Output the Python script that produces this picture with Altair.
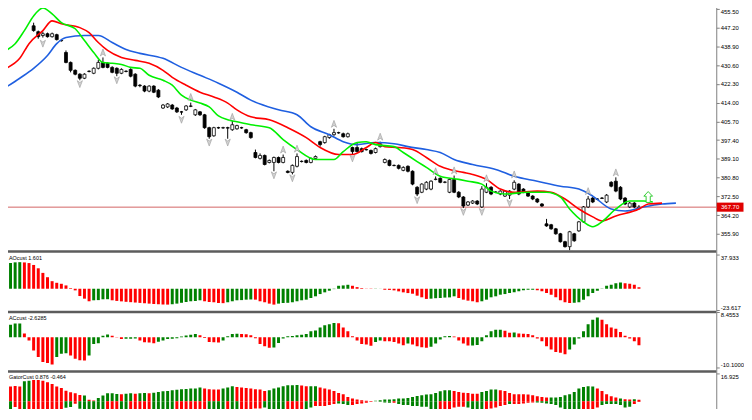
import altair as alt
import pandas as pd

# ---------------- price candles (index 0 .. 131) ----------------
opens = [448.0, 445.4, 443.7, 444.5, 443.2, 444.1, 441.5, 436.2, 431.8, 428.3,
         426.6, 424.8, 427.9, 427.0, 429.2, 431.8, 431.4, 429.6, 429.2, 427.0,
         427.9, 428.7, 426.6, 421.7, 421.3, 419.1, 421.3, 419.5, 411.6, 412.1,
         412.9, 411.6, 409.9, 410.8, 412.5, 408.6, 409.9, 408.6, 402.9, 399.3,
         402.9, 402.8, 402.9, 402.0, 402.4, 402.9, 402.0, 400.7, 391.9, 389.3,
         390.6, 387.5, 387.5, 389.7, 387.5, 383.6, 383.1, 385.8, 387.9, 388.4,
         387.5, 389.3, 396.7, 396.3, 398.5, 399.8, 400.7, 400.2, 398.9, 394.1,
         394.1, 393.6, 393.2, 392.8, 391.9, 394.5, 387.5, 388.4, 386.2, 386.2,
         384.0, 385.8, 383.6, 376.5, 374.3, 375.7, 375.7, 380.0, 380.5, 378.7,
         374.3, 380.0, 374.3, 372.2, 368.6, 369.5, 370.4, 367.8, 374.3, 376.5,
         374.3, 373.5, 372.6, 373.0, 375.7, 377.9, 375.7, 374.3, 372.6, 371.3,
         369.1, 360.3, 359.9, 358.1, 355.9, 352.4, 350.2, 355.9, 357.2, 361.2,
         367.8, 371.7, 371.3, 371.7, 370.0, 378.7, 379.2, 376.5, 371.7, 367.8,
         369.5, 367.0]
closes = [445.9, 443.2, 444.5, 443.2, 444.5, 441.9, 441.4, 431.8, 428.3, 426.6,
          424.8, 426.6, 427.8, 429.2, 431.8, 429.6, 429.6, 427.4, 427.0, 428.7,
          427.8, 425.7, 421.3, 421.5, 419.1, 421.3, 418.6, 416.5, 412.9, 413.4,
          411.2, 409.9, 409.8, 412.5, 412.4, 410.8, 408.6, 402.9, 398.9, 402.9,
          402.8, 402.9, 402.7, 404.2, 403.8, 402.8, 400.7, 398.5, 389.7, 390.6,
          386.6, 388.4, 389.7, 387.5, 389.7, 383.1, 386.2, 390.1, 388.0, 387.5,
          389.3, 390.1, 395.4, 398.9, 399.8, 400.7, 400.6, 398.9, 400.2, 392.3,
          392.3, 392.3, 393.1, 391.5, 393.6, 395.8, 388.8, 386.2, 386.1, 384.9,
          385.3, 383.6, 377.9, 373.5, 377.9, 378.7, 379.2, 380.1, 378.7, 378.8,
          380.0, 374.3, 372.2, 368.2, 370.0, 370.4, 369.1, 375.7, 376.5, 373.5,
          374.4, 374.8, 374.8, 374.8, 378.7, 373.5, 374.3, 372.6, 371.3, 370.0,
          368.2, 359.4, 358.1, 355.9, 352.4, 350.2, 356.8, 352.8, 361.2, 367.8,
          371.3, 370.0, 371.2, 371.6, 373.0, 377.0, 374.8, 371.3, 369.1, 369.5,
          367.8, 367.7]
highs = [449.4, 445.9, 445.4, 445.0, 445.0, 444.5, 441.9, 437.1, 432.2, 428.7,
         427.0, 427.0, 428.3, 429.6, 433.0, 434.0, 431.8, 430.1, 429.6, 429.2,
         428.3, 429.2, 427.0, 422.2, 421.7, 421.7, 421.7, 420.0, 413.4, 413.8,
         413.4, 412.1, 410.3, 412.9, 414.0, 411.2, 410.3, 409.0, 403.3, 403.3,
         403.3, 403.3, 403.3, 405.9, 404.2, 403.3, 402.4, 401.1, 393.2, 391.5,
         391.0, 388.8, 390.1, 390.1, 391.0, 384.0, 386.6, 391.5, 388.4, 388.8,
         389.7, 390.6, 397.1, 399.3, 400.2, 402.4, 401.1, 400.7, 400.7, 394.5,
         396.3, 394.1, 393.6, 393.2, 394.1, 396.7, 389.3, 388.8, 386.6, 386.6,
         385.8, 386.2, 384.0, 377.0, 378.3, 379.2, 379.6, 381.3, 380.9, 379.2,
         380.5, 381.7, 374.8, 372.6, 370.4, 370.8, 370.8, 377.0, 378.3, 377.0,
         374.8, 375.2, 375.2, 375.2, 379.6, 378.3, 376.1, 374.8, 373.0, 371.7,
         369.5, 362.5, 360.3, 358.5, 356.3, 352.8, 357.2, 356.3, 361.6, 368.2,
         372.6, 372.2, 371.7, 372.2, 373.5, 379.2, 380.9, 377.0, 372.2, 370.0,
         370.0, 368.6]
lows = [445.4, 442.3, 442.8, 442.8, 442.8, 441.5, 441.0, 431.4, 427.4, 426.1,
        423.9, 424.4, 427.4, 426.6, 428.7, 429.2, 429.2, 427.0, 425.7, 426.6,
        427.4, 425.2, 420.8, 420.8, 418.6, 418.6, 418.2, 416.0, 411.2, 411.6,
        410.8, 409.4, 408.6, 410.3, 412.0, 408.1, 408.1, 402.4, 398.0, 398.9,
        402.4, 402.4, 398.0, 401.5, 402.0, 402.4, 400.2, 398.0, 389.3, 388.8,
        386.2, 387.1, 383.6, 387.1, 387.1, 382.7, 382.2, 385.3, 387.5, 387.1,
        387.1, 388.8, 394.5, 395.8, 398.0, 399.3, 400.2, 398.5, 398.5, 391.0,
        391.9, 391.9, 392.8, 391.0, 391.5, 394.1, 387.1, 385.8, 385.8, 384.4,
        383.6, 383.1, 377.4, 372.6, 373.9, 375.2, 375.2, 379.6, 378.3, 378.3,
        373.9, 373.9, 371.7, 367.3, 368.2, 369.1, 368.6, 367.3, 373.9, 373.0,
        373.9, 373.0, 372.2, 371.3, 375.2, 373.0, 373.9, 372.2, 370.8, 369.5,
        367.8, 359.0, 357.7, 355.5, 352.0, 349.8, 348.5, 352.4, 356.8, 360.7,
        367.3, 369.5, 370.8, 371.3, 369.5, 376.5, 374.3, 370.8, 368.6, 367.3,
        367.3, 366.7]

bid_price = 367.70
main_ticks = [455.5, 447.2, 438.9, 430.6, 422.3, 414.0, 405.7, 397.4, 389.1,
              380.8, 372.5, 364.2, 355.9]

# ---------------- alligator lines (bar index, price) ----------------
jaw_i = [-6, -3, 0, 3, 5, 7, 11, 14, 17, 20, 23, 28, 32, 36, 40, 44, 47, 53, 57, 60,
         64, 67, 70, 74, 78, 81, 85, 88, 91, 95, 100, 104, 109, 114, 118, 121, 125,
         128, 132, 136, 139]
jaw_v = [420.8, 424.8, 429.2, 434.9, 440.1, 442.8, 443.7, 443.7, 440.6, 437.5, 435.8,
         433.6, 429.6, 426.1, 422.6, 418.6, 415.1, 410.8, 408.6, 403.3, 399.8, 396.7,
         395.4, 396.3, 395.8, 394.5, 393.2, 391.9, 388.8, 386.6, 384.4, 381.4, 379.2,
         377.0, 375.7, 372.6, 366.9, 366.0, 367.8, 369.1, 369.5]
teeth_i = [-6, -3, -1, 2, 4, 6, 10, 12, 14, 16, 19, 22, 25, 28, 30, 33, 36, 39, 42, 44,
           47, 51, 55, 59, 62, 66, 69, 72, 74, 76, 79, 82, 85, 88, 90, 93, 95, 98, 101,
           104, 109, 112, 115, 118, 121, 123, 126, 131, 133, 136]
teeth_v = [429.2, 433.6, 440.1, 445.9, 450.2, 448.9, 447.2, 445.0, 440.6, 437.1, 434.0,
           432.7, 431.4, 428.3, 425.2, 421.7, 418.6, 416.5, 413.8, 410.8, 407.7, 406.4,
           402.9, 398.5, 394.1, 391.0, 391.0, 394.1, 396.3, 394.5, 394.1, 393.2, 389.7,
           385.8, 384.4, 383.1, 382.2, 380.0, 375.7, 374.3, 374.8, 374.3, 371.3, 366.9,
           363.4, 361.6, 363.8, 366.9, 369.1, 369.5]
lips_i = [-6, -4, -2, 0, 2, 4, 6, 9, 11, 13, 15, 17, 19, 21, 23, 25, 28, 30, 32, 34, 36,
          38, 40, 42, 44, 47, 51, 54, 57, 61, 65, 67, 70, 72, 74, 78, 80, 83, 85, 88, 92,
          94, 97, 99, 102, 107, 111, 114, 116, 119, 121, 123, 126, 129, 132, 134]
lips_v = [437.1, 440.1, 445.9, 452.4, 455.9, 453.3, 449.4, 446.7, 441.5, 436.2, 431.8,
          431.4, 430.9, 429.6, 429.2, 426.1, 423.9, 421.7, 417.3, 415.1, 413.8, 412.1,
          408.1, 406.4, 405.5, 404.2, 402.9, 397.6, 393.2, 388.8, 388.8, 392.3, 396.3,
          396.7, 395.4, 394.5, 391.9, 387.9, 385.3, 381.4, 380.0, 379.2, 377.9, 374.8,
          373.5, 374.3, 374.3, 372.2, 366.9, 361.2, 359.0, 361.2, 366.9, 370.4, 370.4,
          370.0]

# ---------------- fractals ----------------
frac_up_i = [15, 34, 43, 54, 57, 65, 75, 87, 91, 98, 104, 120, 126]
frac_up_v = [436.2, 416.5, 407.7, 393.2, 393.6, 404.6, 398.9, 383.6, 384.0, 380.5,
             382.2, 374.8, 383.1]
frac_dn_i = [2, 10, 18, 32, 38, 42, 52, 56, 69, 83, 93, 97, 103, 116]
frac_dn_v = [440.1, 422.2, 423.9, 406.4, 396.3, 396.3, 381.8, 380.5, 389.3, 370.8,
             365.6, 365.6, 369.5, 346.8]
signal_i = [133]
signal_v = [372.2]

# ---------------- oscillators (index -6 .. 131) ----------------
ao_vals = [27.5, 28.6, 29.3, 29.5, 29.2, 28.5,
           26.4, 22.7, 17.6, 12.8, 8.4, 6.6, 5.5, 3.7, 0.7, -1.8, -8.1, -11.0, -13.9,
           -12.8, -12.6, -11.7, -11.6,
           -12.8, -13.5, -14.0, -14.5, -14.9, -15.3, -15.7, -16.1, -16.5, -16.9, -17.2, -17.5, -17.6,
           -17.2, -16.5, -15.6, -14.7,
           -13.9, -13.6, -12.8, -13.9, -14.7, -15.0, -15.8, -16.0, -15.0, -13.9,
           -12.8, -12.6, -12.1, -11.9, -12.1, -13.9, -15.0, -16.5, -17.6, -16.5,
           -15.8, -15.6, -15.0, -13.9, -12.8, -12.1, -10.3, -8.4, -5.9, -4.0,
           -2.2, -0.4, 3.3, 3.7, 4.4, 3.3, 1.8, 0.7, 0.2, -0.3,
           -0.2, -0.1, -1.1, -1.3, -1.8, -2.9, -4.0, -4.8, -5.5, -7.7,
           -9.5, -11.3, -11.0, -10.5, -10.3, -9.8, -9.6, -8.4, -10.3, -12.1,
           -13.2, -13.9, -15.0, -13.9, -12.1, -9.5, -8.4, -6.6, -5.9, -4.8,
           -4.0, -2.9, -1.8, -1.1, -1.0, -1.8, -2.9, -4.8, -6.6, -9.5,
           -12.8, -15.0, -15.8, -15.6, -15.0, -12.1, -8.4, -4.8, -2.2, -0.4,
           3.3, 4.4, 6.2, 7.0, 6.2, 5.5, 4.4, 1.6]
ac_vals = [3.9, 4.2, 4.6, 4.65, 1.3, -1.1,
           -4.4, -6.6, -8.3, -8.6, -9.1, -6.6, -5.5, -5.3, -6.1, -7.2, -7.7, -7.75, -6.1,
           -2.2, -2.0, 0.55, 0.9, 0.55, 0.1, -0.55, -0.5, -0.45, -0.4, -1.1, -1.65, -1.7,
           -2.0, -1.45, -1.1, -0.55, -0.5, -0.3, 0.3, 0.6,
           0.88, 1.1, 0.66, -0.2, -1.55, -1.66, -1.7, -1.1, 0.33, 1.1,
           1.15, 1.1, 1.05, 0.66, -0.3, -2.2, -3.0, -3.5, -3.4, -1.9,
           -0.4, 0.33, 0.45, 0.66, 0.88, 1.1, 2.0, 2.3, 3.3, 4.0,
           4.4, 4.75, 4.7, 3.3, 2.0, 0.33, -1.1, -2.2, -2.4, -2.8,
           -1.55, -1.1, -1.3, -1.35, -1.55, -2.1, -2.65, -2.1, -2.4, -3.0,
           -3.3, -3.5, -3.2, -2.1, -0.77, 0.33, 0.4, 0.3, -1.1, -2.1,
           -2.76, -2.7, -2.6, -1.3, 0.66, 2.0, 2.5, 2.55, 2.2, 1.5,
           1.6, 1.3, 1.2, 1.1, 0.7, -0.4, -1.3, -3.0, -4.1, -4.9,
           -5.2, -5.7, -4.1, -2.4, -0.4, 2.0, 4.4, 5.85, 6.6, 5.85,
           4.4, 3.3, 2.9, 1.8, 0.55, -0.44, -1.3, -2.63]
gator_up = [9.5, 8.9, 9.3, 8.9, 12.1, 12.5,
            12.9, 12.9, 12.5, 11.5, 10.5, 8.9, 8.1, 6.4, 5.4, 4.8, 3.8, 3.4, 0.8,
            0.4, 2.0, 3.4, 4.8, 4.8, 4.4, 4.2, 4.6, 4.8, 4.6, 4.8, 5.0, 4.8, 5.2,
            5.6, 6.0, 6.2, 6.6, 7.0, 7.3, 7.5,
            7.7, 7.7, 8.3, 7.7, 7.3, 7.1, 7.1, 7.7, 8.3, 9.1,
            8.7, 8.3, 8.1, 7.7, 7.3, 7.1, 6.2, 6.6, 7.7, 8.3,
            9.1, 9.7, 9.7, 9.9, 9.5, 9.1, 9.1, 9.1, 8.3, 7.7,
            7.1, 6.2, 5.0, 4.2, 2.6, 1.6, 1.0, 0.6, 0.2, 0.1,
            0.2, 0.6, 1.0, 1.0, 1.2, 1.6, 1.6, 2.0, 2.6, 3.2,
            3.6, 4.0, 4.2, 5.0, 6.0, 6.6, 6.6, 6.2, 5.6, 5.2,
            5.0, 4.6, 4.6, 5.6, 6.2, 7.1, 7.1, 6.6, 6.2, 5.0,
            4.2, 4.2, 4.2, 4.0, 3.6, 3.0, 2.6, 2.2, 2.2, 2.2,
            2.6, 3.6, 4.2, 5.6, 7.7, 8.7, 9.1, 8.9, 7.7, 6.2,
            4.2, 3.0, 2.2, 1.6, 1.2, 1.0, 1.2, 0.876]
gator_up_c = ["g", "r", "r", "r", "g", "g",
              "r", "r", "r", "r", "r", "r", "r", "r", "r", "r", "r", "g", "r",
              "r", "g", "g", "g", "g", "g", "r", "g", "g", "r", "g", "g", "r", "g",
              "g", "g", "g", "g", "g", "g", "g",
              "g", "g", "g", "r", "r", "r", "r", "g", "g", "g",
              "r", "r", "r", "r", "r", "r", "r", "g", "g", "g",
              "g", "g", "g", "g", "r", "r", "g", "g", "r", "r",
              "r", "r", "r", "r", "r", "r", "r", "r", "r", "r",
              "g", "g", "g", "g", "g", "g", "g", "g", "g", "g",
              "g", "g", "g", "g", "g", "g", "g", "r", "r", "r",
              "r", "r", "r", "g", "g", "g", "g", "r", "r", "r",
              "r", "r", "r", "r", "r", "r", "r", "r", "g", "g",
              "g", "g", "g", "g", "g", "g", "g", "g", "r", "r",
              "r", "r", "r", "g", "r", "r", "g", "r"]
gator_lo = [-9.7, -8.7, -3.6, -5.6, -8.7, -9.7,
            -9.7, -8.7, -7.7, -7.7, -6.6, -6.6, -6.6, -4.0, -3.6, -1.6, -4.6, -5.6, -6.6,
            -7.3, -7.3, -6.6, -6.6, -6.6, -6.6, -6.0, -6.4, -6.0, -5.8, -5.6, -5.4, -5.0,
            -5.4, -5.8, -6.0, -6.4, -6.6, -6.4, -6.2, -6.4,
            -6.4, -5.8, -5.0, -5.0, -5.4, -6.4, -7.1, -7.1, -6.4, -5.8,
            -5.4, -5.0, -5.0, -5.0, -4.4, -4.4, -3.8, -5.4, -7.1, -7.1,
            -7.5, -7.1, -7.1, -6.4, -5.8, -5.0, -3.8, -3.0, -3.0, -3.0,
            -2.4, -1.8, -1.4, -1.8, -2.4, -2.4, -1.8, -1.4, -1.0, -0.4,
            -0.1, -0.4, -0.8, -1.0, -1.0, -1.8, -2.4, -2.4, -3.0, -3.0,
            -3.4, -3.4, -5.4, -6.0, -6.0, -5.4, -5.0, -3.8, -3.4, -3.4,
            -3.8, -5.0, -5.4, -5.4, -5.0, -4.4, -3.8, -3.0, -2.4, -1.8,
            -1.8, -1.8, -1.4, -1.0, -0.8, -0.8, -1.0, -1.4, -1.8, -2.4,
            -3.8, -5.0, -5.8, -7.1, -7.9, -7.5, -7.1, -5.4, -3.8, -2.4,
            -1.8, -1.8, -1.8, -2.4, -3.8, -3.4, -1.8, -0.464]
gator_lo_c = ["g", "g", "r", "r", "g", "r",
              "r", "r", "r", "r", "r", "r", "r", "g", "g", "r", "g", "g", "g",
              "g", "g", "g", "r", "r", "r", "g", "g", "r", "r", "r", "r", "r",
              "g", "g", "g", "g", "g", "r", "r", "r",
              "r", "r", "r", "r", "g", "g", "g", "g", "r", "g",
              "g", "r", "r", "r", "r", "r", "g", "g", "g", "g",
              "g", "r", "r", "r", "r", "g", "g", "r", "r", "r",
              "r", "r", "g", "g", "g", "r", "r", "r", "r", "r",
              "g", "g", "g", "g", "r", "g", "g", "g", "g", "g",
              "g", "g", "g", "g", "r", "r", "r", "r", "r", "r",
              "g", "g", "g", "g", "r", "r", "r", "r", "r", "g",
              "r", "r", "r", "r", "r", "g", "g", "g", "g", "g",
              "g", "g", "g", "g", "g", "r", "r", "r", "r", "g",
              "g", "g", "g", "g", "g", "g", "r", "r"]

ao_label = "AOcust 1.601"
ac_label = "ACcust -2.6285"
gator_label = "GatorCust 0.876 -0.464"

# ---------------- layout / style ----------------
W = 723
H_MAIN, H_AO, H_AC, H_GT = 252, 61, 60, 47
X_DOMAIN = [-6.19, 146.66]
FONT = "Liberation Sans"
BAR_G, BAR_R = "#008000", "#ff0000"
UP_PATH = "M0,-1L0.75,1L0,0.45L-0.75,1Z"
DN_PATH = "M0,1L0.75,-1L0,-0.45L-0.75,-1Z"
ARROW_PATH = "M0,-1L0.8,-0.15L0.38,-0.15L0.38,1L-0.38,1L-0.38,-0.15L-0.8,-0.15Z"
BOX_PATH = "M-1,-0.34L1,-0.34L1,0.34L-1,0.34Z"

xs = alt.Scale(domain=X_DOMAIN, nice=False, zero=False)


def X(f):
    return alt.X(f, type="quantitative", scale=xs, axis=None)


def axis(values, expr=None, fmt=None, flush=False):
    kw = dict(orient="right", values=values, tickSize=3, labelFontSize=6, labelFont=FONT,
              labelColor="black", domainColor="#808080", tickColor="#808080",
              labelPadding=1, grid=False, labelOverlap=False, labelFlush=flush)
    if expr is not None:
        kw["labelExpr"] = expr
    if fmt is not None:
        kw["format"] = fmt
    return alt.Axis(**kw)


def neg_expr(fmt):
    return ("datum.value < 0 ? '-' + format(-datum.value, '%s') : format(datum.value, '%s')"
            % (fmt, fmt))


# ---------------- main price panel ----------------
ys_main = alt.Scale(domain=[348.46, 459.01], nice=False, zero=False)
ax_main = axis(main_ticks, fmt=".2f", flush=10)


def Ym(f):
    return alt.Y(f, type="quantitative", scale=ys_main, axis=ax_main, title=None)


cdf = pd.DataFrame({"i": list(range(len(opens))), "o": opens, "c": closes,
                    "h": highs, "l": lows})
cdf["dir"] = ["up" if c >= o else "down" for o, c in zip(opens, closes)]

bid = alt.Chart(pd.DataFrame({"p": [bid_price]})).mark_rule(
    color="#d26464", strokeWidth=1, clip=True).encode(y=Ym("p"))

wicks = alt.Chart(cdf).mark_rule(color="black", strokeWidth=1, clip=True).encode(
    x=X("i"), y=Ym("l"), y2="h")
bodies = alt.Chart(cdf).mark_bar(width=3, stroke="black", strokeWidth=0.8, clip=True).encode(
    x=X("i"), y=Ym("o"), y2="c",
    fill=alt.Fill("dir:N", scale=alt.Scale(domain=["up", "down"], range=["white", "black"]),
                  legend=None))


def gator_line(idx, vals, color):
    return alt.Chart(pd.DataFrame({"i": idx, "v": vals})).mark_line(
        color=color, strokeWidth=1.6, interpolate="monotone", clip=True).encode(
        x=X("i"), y=Ym("v"))


jaw = gator_line(jaw_i, jaw_v, "#1f5fe0")
teeth = gator_line(teeth_i, teeth_v, "#ff0000")
lips = gator_line(lips_i, lips_v, "#00f000")

fu = alt.Chart(pd.DataFrame({"i": frac_up_i, "p": frac_up_v})).mark_point(
    shape=UP_PATH, size=49, filled=True, fill="#d2d2d2", stroke="#9a9a9a",
    strokeWidth=0.6, opacity=1, clip=True).encode(x=X("i"), y=Ym("p"))
fd = alt.Chart(pd.DataFrame({"i": frac_dn_i, "p": frac_dn_v})).mark_point(
    shape=DN_PATH, size=49, filled=True, fill="#d2d2d2", stroke="#9a9a9a",
    strokeWidth=0.6, opacity=1, clip=True).encode(x=X("i"), y=Ym("p"))
sig = alt.Chart(pd.DataFrame({"i": signal_i, "p": signal_v})).mark_point(
    shape=ARROW_PATH, size=121, filled=True, fill="white", stroke="#33cc33",
    strokeWidth=1, opacity=1, clip=True).encode(x=X("i"), y=Ym("p"))

pbox_df = pd.DataFrame({"p": [bid_price], "t": ["%.2f" % bid_price]})
pbox = alt.Chart(pbox_df).mark_point(
    shape=BOX_PATH, size=729, filled=True, fill="#e00000", strokeWidth=0,
    opacity=1).encode(x=alt.value(737), y=Ym("p"))
ptext = alt.Chart(pbox_df).mark_text(
    color="white", fontSize=6, font=FONT, align="center", baseline="middle").encode(
    x=alt.value(737), y=Ym("p"), text="t:N")

main = alt.layer(bid, wicks, bodies, jaw, teeth, lips, fu, fd, sig, pbox, ptext).properties(
    width=W, height=H_MAIN)

# ---------------- oscillator panels ----------------
osc_i = list(range(-6, -6 + len(ao_vals)))
one = pd.DataFrame({"k": [0]})


def trend_colors(vals):
    return ["g"] + ["g" if vals[k] > vals[k - 1] else "r" for k in range(1, len(vals))]


def color_enc(f):
    return alt.Color(f, type="nominal",
                     scale=alt.Scale(domain=["g", "r"], range=[BAR_G, BAR_R]), legend=None)


def panel(layers, label, h):
    sep = alt.Chart(one).mark_rule(color="#5c5c5c", strokeWidth=2.5).encode(
        x=alt.value(2), x2=alt.value(W), y=alt.value(1))
    txt = alt.Chart(one).mark_text(align="left", baseline="middle", fontSize=5.5,
                                   font=FONT, color="black", text=label).encode(
        x=alt.value(9), y=alt.value(7))
    return alt.layer(*layers, sep, txt).properties(width=W, height=h)


ao_df = pd.DataFrame({"i": osc_i, "v": ao_vals, "c": trend_colors(ao_vals)})
ao_scale = alt.Scale(domain=[-24.72, 42.33], nice=False, zero=False)
ao_bars = alt.Chart(ao_df).mark_bar(width=3, clip=True).encode(
    x=X("i"),
    y=alt.Y("v:Q", scale=ao_scale, stack=None, title=None,
            axis=axis([37.933, -23.617], expr=neg_expr(".3f"), flush=8)),
    color=color_enc("c"))
ao = panel([ao_bars], ao_label, H_AO)

ac_df = pd.DataFrame({"i": osc_i, "v": ac_vals, "c": trend_colors(ac_vals)})
ac_scale = alt.Scale(domain=[-11.09, 8.79], nice=False, zero=False)
ac_bars = alt.Chart(ac_df).mark_bar(width=3, clip=True).encode(
    x=X("i"),
    y=alt.Y("v:Q", scale=ac_scale, stack=None, title=None,
            axis=axis([8.4553, -10.1], expr=neg_expr(".4f"), flush=8)),
    color=color_enc("c"))
ac = panel([ac_bars], ac_label, H_AC)

gt_scale = alt.Scale(domain=[-9.67, 18.74], nice=False, zero=False)
gt_ax = axis([16.925], expr=neg_expr(".3f"), flush=8)
gu_df = pd.DataFrame({"i": osc_i, "v": gator_up, "c": gator_up_c})
gl_df = pd.DataFrame({"i": osc_i, "v": gator_lo, "c": gator_lo_c})
gu = alt.Chart(gu_df).mark_bar(width=3, clip=True).encode(
    x=X("i"), y=alt.Y("v:Q", scale=gt_scale, stack=None, title=None, axis=gt_ax),
    color=color_enc("c"))
gl = alt.Chart(gl_df).mark_bar(width=3, clip=True).encode(
    x=X("i"), y=alt.Y("v:Q", scale=gt_scale, stack=None, title=None, axis=gt_ax),
    color=color_enc("c"))
gt = panel([gu, gl], gator_label, H_GT)

chart = alt.vconcat(main, ao, ac, gt, spacing=0, bounds="flush").properties(
    padding={"left": -8, "top": -9, "right": 0, "bottom": -10},
    background="white",
).configure_view(stroke=None)

chart.save("out.html", embed_options={"renderer": "svg", "actions": False})
